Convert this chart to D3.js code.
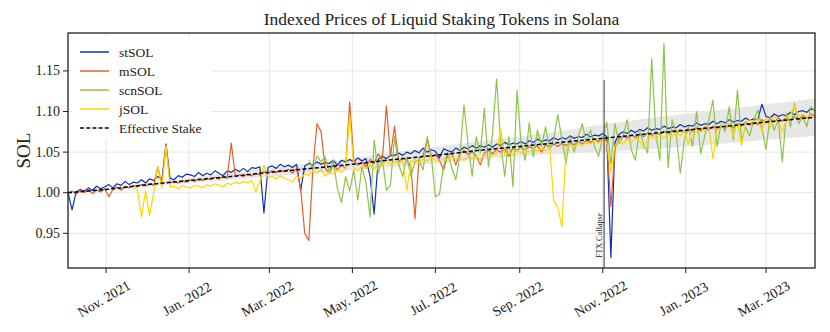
<!DOCTYPE html>
<html>
<head>
<meta charset="utf-8">
<script src="https://cdn.jsdelivr.net/npm/d3@7"></script>
<style>
  body { margin: 0; background: #fff; }
  svg { display: block; }
  text { font-family: "Liberation Serif", "Times New Roman", serif; fill: #222; }
</style>
</head>
<body>
<script>
// sampling grid of the price series: one value every 3 days from 4 Oct 2021
const firstDay = "2021-10-04";
const stepDays = 3;

const stSOL = [
  1.000, 0.979, 1.001, 1.004, 1.002, 1.006, 1.003, 1.008, 1.005, 1.007,
  1.010, 1.006, 1.011, 1.009, 1.014, 1.010, 1.013, 1.012, 1.016, 1.012,
  1.017, 1.015, 1.020, 1.016, 1.060, 1.018, 1.016, 1.021, 1.019, 1.023,
  1.022, 1.020, 1.025, 1.021, 1.024, 1.022, 1.027, 1.024, 1.021, 1.027,
  1.025, 1.029, 1.026, 1.030, 1.026, 1.031, 1.030, 1.032, 0.975, 1.031,
  1.033, 1.030, 1.035, 1.032, 1.034, 1.031, 1.035, 1.003, 1.033, 1.036,
  1.034, 1.038, 1.035, 1.037, 1.036, 1.040, 1.034, 1.040, 1.038, 1.041,
  1.038, 1.043, 1.039, 1.042, 1.020, 0.974, 1.041, 1.045, 1.042, 1.046,
  1.046, 1.049, 1.046, 1.050, 1.048, 1.052, 1.049, 1.055, 1.050, 1.053,
  1.051, 1.043, 1.054, 1.052, 1.050, 1.055, 1.052, 1.056, 1.054, 1.058,
  1.055, 1.058, 1.056, 1.059, 1.056, 1.060, 1.058, 1.062, 1.059, 1.061,
  1.060, 1.063, 1.060, 1.064, 1.062, 1.066, 1.063, 1.065, 1.064, 1.068,
  1.065, 1.068, 1.066, 1.070, 1.067, 1.069, 1.068, 1.072, 1.069, 1.071,
  1.070, 1.073, 1.069, 0.920, 1.062, 1.072, 1.075, 1.073, 1.077, 1.074,
  1.078, 1.076, 1.080, 1.077, 1.079, 1.078, 1.082, 1.079, 1.081, 1.080,
  1.084, 1.081, 1.083, 1.082, 1.086, 1.083, 1.085, 1.084, 1.088, 1.085,
  1.088, 1.086, 1.090, 1.087, 1.089, 1.088, 1.092, 1.089, 1.091, 1.090,
  1.109, 1.094, 1.092, 1.097, 1.094, 1.096, 1.095, 1.099, 1.096, 1.100,
  1.101, 1.099, 1.104, 1.101
];

const mSOL = [
  1.000, 1.002, 0.998, 1.003, 1.000, 1.004, 0.999, 1.003, 1.001, 1.005,
  0.995, 1.004, 1.007, 1.003, 1.008, 1.006, 1.009, 1.007, 1.010, 1.008,
  1.011, 1.009, 1.032, 1.010, 1.060, 1.012, 1.014, 1.012, 1.015, 1.013,
  1.016, 1.014, 1.017, 1.015, 1.018, 1.016, 1.019, 1.017, 1.020, 1.018,
  1.061, 1.020, 1.022, 1.020, 1.023, 1.021, 1.024, 1.022, 1.026, 1.024,
  1.027, 1.025, 1.028, 1.026, 1.029, 1.024, 1.030, 1.005, 0.950, 0.941,
  1.030, 1.085, 1.075, 1.030, 1.024, 1.035, 1.028, 1.034, 1.030, 1.112,
  1.040, 1.034, 1.038, 1.032, 1.041, 1.036, 1.048, 1.040, 1.107, 1.045,
  1.082, 1.038, 1.043, 1.040, 1.032, 0.968, 1.042, 1.046, 1.065, 1.044,
  1.047, 1.040, 1.028, 1.046, 1.049, 1.034, 1.048, 1.052, 1.047, 1.050,
  1.046, 1.034, 1.049, 1.052, 1.048, 1.053, 1.050, 1.054, 1.045, 1.055,
  1.052, 1.056, 1.053, 1.057, 1.054, 1.058, 1.050, 1.059, 1.056, 1.060,
  1.057, 1.061, 1.058, 1.062, 1.059, 1.063, 1.060, 1.065, 1.062, 1.066,
  1.063, 1.067, 1.064, 0.983, 1.055, 1.066, 1.070, 1.067, 1.071, 1.068,
  1.072, 1.069, 1.074, 1.070, 1.075, 1.071, 1.076, 1.072, 1.077, 1.073,
  1.078, 1.074, 1.079, 1.075, 1.080, 1.076, 1.081, 1.077, 1.082, 1.078,
  1.083, 1.079, 1.084, 1.080, 1.086, 1.082, 1.087, 1.083, 1.088, 1.084,
  1.090, 1.086, 1.091, 1.087, 1.092, 1.088, 1.093, 1.089, 1.094, 1.090,
  1.095, 1.092, 1.097, 1.094
];

const scnSOLStart = 59;
const scnSOL = [
  1.040, 1.030, 1.045, 1.038, 1.044, 1.025, 1.040, 1.005, 0.988, 1.020,
  1.002, 1.028, 0.991, 1.032, 1.012, 0.970, 1.065, 1.024, 1.042, 1.003,
  1.010, 1.069, 1.035, 1.020, 1.044, 1.020, 1.038, 1.040, 1.028, 1.069,
  1.045, 0.995, 0.998, 1.033, 1.050, 1.031, 1.016, 1.045, 1.108, 1.060,
  1.020, 1.069, 1.049, 1.104, 1.032, 1.073, 1.140, 1.061, 1.020, 1.069,
  1.007, 1.126, 1.061, 1.040, 1.086, 1.044, 1.077, 1.057, 1.081, 1.053,
  1.066, 1.096, 1.065, 1.036, 1.069, 1.050, 1.069, 1.085, 1.060, 1.077,
  1.057, 1.045, 1.069, 1.087, 1.035, 1.085, 1.060, 1.069, 1.090, 1.053,
  1.040, 1.077, 1.060, 1.049, 1.165, 1.073, 1.040, 1.184, 1.031, 1.090,
  1.073, 1.024, 1.065, 1.081, 1.057, 1.100, 1.048, 1.070, 1.090, 1.114,
  1.057, 1.085, 1.075, 1.106, 1.065, 1.126, 1.065, 1.081, 1.070, 1.090,
  1.102, 1.080, 1.053, 1.094, 1.077, 1.090, 1.038, 1.098, 1.081, 1.110,
  1.085, 1.094, 1.081, 1.106, 1.100
];

const jSOLStart = 16;
const jSOL = [
  1.006, 1.004, 0.970, 1.002, 0.972, 1.000, 1.032, 1.006, 1.058, 1.007,
  1.008, 1.005, 1.009, 1.007, 1.006, 1.009, 1.008, 1.006, 1.010, 1.008,
  1.011, 1.009, 1.007, 1.012, 1.010, 1.013, 1.011, 1.014, 1.012, 1.015,
  1.001, 1.014, 1.034, 1.019, 1.020, 1.017, 1.021, 1.018, 1.016, 1.013,
  1.020, 1.018, 1.023, 1.021, 1.027, 1.024, 1.029, 1.020, 1.026, 1.023,
  1.028, 1.025, 1.030, 1.096, 1.031, 1.027, 1.033, 1.030, 1.035, 1.028,
  1.036, 1.033, 1.040, 1.035, 1.038, 1.036, 1.040, 1.003, 1.038, 1.041,
  1.037, 1.042, 1.039, 1.043, 1.040, 1.038, 1.042, 1.040, 1.044, 1.041,
  1.043, 1.040, 1.044, 1.042, 1.045, 1.040, 1.047, 1.043, 1.046, 1.049,
  1.078, 1.046, 1.050, 1.047, 1.052, 1.049, 1.053, 1.050, 1.054, 1.051,
  1.055, 1.052, 1.056, 0.990, 0.982, 0.958, 1.055, 1.059, 1.056, 1.061,
  1.058, 1.063, 1.060, 1.064, 1.061, 1.066, 1.062, 1.025, 1.058, 1.063,
  1.060, 1.066, 1.062, 1.067, 1.064, 1.055, 1.065, 1.070, 1.066, 1.071,
  1.067, 1.072, 1.069, 1.074, 1.070, 1.076, 1.060, 1.078, 1.074, 1.080,
  1.076, 1.082, 1.042, 1.080, 1.084, 1.081, 1.086, 1.070, 1.088, 1.058,
  1.086, 1.090, 1.087, 1.092, 1.075, 1.093, 1.080, 1.094, 1.090, 1.074,
  1.092, 1.096, 1.108, 1.094, 1.097, 1.093, 1.098, 1.096
];

const effDates = [
  "2021-10-04", "2021-11-01", "2021-12-01", "2022-01-01", "2022-02-01", "2022-03-01",
  "2022-04-01", "2022-05-01", "2022-06-01", "2022-07-01", "2022-08-01", "2022-09-01",
  "2022-10-01", "2022-11-01", "2022-12-01", "2023-01-01", "2023-02-01", "2023-03-01",
  "2023-04-06"
];
const effStake = [
  1.000, 1.004, 1.010, 1.015, 1.020, 1.025, 1.030, 1.035, 1.041, 1.046,
  1.052, 1.057, 1.062, 1.067, 1.072, 1.077, 1.082, 1.087, 1.093
];
const bandHalfWidth = [
  0.001, 0.0015, 0.002, 0.003, 0.004, 0.005, 0.006, 0.007, 0.009, 0.010,
  0.011, 0.012, 0.014, 0.017, 0.019, 0.020, 0.021, 0.022, 0.023
];

const xTickDates = ["2021-11-01", "2022-01-01", "2022-03-01", "2022-05-01", "2022-07-01",
  "2022-09-01", "2022-11-01", "2023-01-01", "2023-03-01"];
const yTickValues = [0.95, 1.00, 1.05, 1.10, 1.15];

const ftxDate = "2022-11-02";
const ftxTop = 1.139;

const seriesNames = ["stSOL", "mSOL", "scnSOL", "jSOL"];
const seriesColors = ["#1030b4", "#e0612b", "#8dc34a", "#ffd500"];

const width = 830, height = 332;
const margin = { left: 68, right: 15, top: 33, bottom: 64 };

const parse = d3.timeParse("%Y-%m-%d");
const t0 = parse(firstDay);

function toPoints(values, start) {
  return values.map((v, k) => ({ date: d3.timeDay.offset(t0, (start + k) * stepDays), value: v }));
}

const series = [
  toPoints(stSOL, 0),
  toPoints(mSOL, 0),
  toPoints(scnSOL, scnSOLStart),
  toPoints(jSOL, jSOLStart)
];
const eff = effDates.map((d, k) => ({ date: parse(d), value: effStake[k], half: bandHalfWidth[k] }));

const x = d3.scaleTime()
  .domain([parse("2021-10-04"), parse("2023-04-06")])
  .range([margin.left, width - margin.right]);
const y = d3.scaleLinear()
  .domain([0.9073, 1.1967])
  .range([height - margin.bottom, margin.top]);

const svg = d3.select("body").append("svg")
  .attr("width", width)
  .attr("height", height);

const defs = svg.append("defs");
defs.append("clipPath").attr("id", "plot")
  .append("rect")
  .attr("x", margin.left).attr("y", margin.top)
  .attr("width", width - margin.left - margin.right)
  .attr("height", height - margin.top - margin.bottom);

// grid
const grid = svg.append("g").attr("stroke", "#e6e6e6").attr("stroke-width", 1);
grid.selectAll("line.v").data(xTickDates).join("line")
  .attr("x1", d => x(parse(d))).attr("x2", d => x(parse(d)))
  .attr("y1", margin.top).attr("y2", height - margin.bottom);
grid.selectAll("line.h").data(yTickValues).join("line")
  .attr("y1", d => y(d)).attr("y2", d => y(d))
  .attr("x1", margin.left).attr("x2", width - margin.right);

const plot = svg.append("g").attr("clip-path", "url(#plot)");

// band around effective stake
plot.append("path")
  .datum(eff)
  .attr("fill", "#e3e3e3")
  .attr("fill-opacity", 0.85)
  .attr("d", d3.area()
    .x(d => x(d.date))
    .y0(d => y(d.value - d.half))
    .y1(d => y(d.value + d.half)));

const line = d3.line().x(d => x(d.date)).y(d => y(d.value));

plot.selectAll("path.series")
  .data(series)
  .join("path")
  .attr("class", "series")
  .attr("fill", "none")
  .attr("stroke", (d, i) => seriesColors[i])
  .attr("stroke-width", 1.2)
  .attr("stroke-linejoin", "round")
  .attr("d", line);

plot.append("path")
  .datum(eff)
  .attr("fill", "none")
  .attr("stroke", "#000")
  .attr("stroke-width", 1.5)
  .attr("stroke-dasharray", "4,2.2")
  .attr("d", line);

// FTX marker
const fx = x(parse(ftxDate));
svg.append("line")
  .attr("x1", fx).attr("x2", fx)
  .attr("y1", y(ftxTop)).attr("y2", height - margin.bottom)
  .attr("stroke", "#333").attr("stroke-width", 1);
svg.append("text")
  .attr("transform", `translate(${fx - 2.5},${height - margin.bottom - 10}) rotate(-90)`)
  .attr("font-size", 8)
  .text("FTX Collapse");

// frame
svg.append("rect")
  .attr("x", margin.left).attr("y", margin.top)
  .attr("width", width - margin.left - margin.right)
  .attr("height", height - margin.top - margin.bottom)
  .attr("fill", "none").attr("stroke", "#222").attr("stroke-width", 1.3);

// axes
const fmtMonth = d3.timeFormat("%b. %Y");
const xAxis = svg.append("g").attr("transform", `translate(0,${height - margin.bottom})`);
xAxis.selectAll("line").data(xTickDates).join("line")
  .attr("x1", d => x(parse(d))).attr("x2", d => x(parse(d)))
  .attr("y1", 0).attr("y2", 5)
  .attr("stroke", "#222");
xAxis.selectAll("text").data(xTickDates).join("text")
  .attr("transform", d => `translate(${x(parse(d)) - 2},31) rotate(-30)`)
  .attr("text-anchor", "middle")
  .attr("dominant-baseline", "central")
  .attr("font-size", 14)
  .text(d => fmtMonth(parse(d)));

const yAxis = svg.append("g").attr("transform", `translate(${margin.left},0)`);
yAxis.selectAll("line").data(yTickValues).join("line")
  .attr("x1", -5).attr("x2", 0)
  .attr("y1", d => y(d)).attr("y2", d => y(d))
  .attr("stroke", "#222");
yAxis.selectAll("text").data(yTickValues).join("text")
  .attr("x", -8)
  .attr("y", d => y(d))
  .attr("text-anchor", "end")
  .attr("dominant-baseline", "central")
  .attr("font-size", 14)
  .text(d => d3.format(".2f")(d));

svg.append("text")
  .attr("transform", `translate(30,${(margin.top + height - margin.bottom) / 2}) rotate(-90)`)
  .attr("text-anchor", "middle")
  .attr("font-size", 19)
  .text("SOL");

svg.append("text")
  .attr("x", (margin.left + width - margin.right) / 2)
  .attr("y", 25)
  .attr("text-anchor", "middle")
  .attr("font-size", 17.5)
  .text("Indexed Prices of Liquid Staking Tokens in Solana");

// legend
const legend = svg.append("g");
legend.append("rect")
  .attr("x", 72).attr("y", 37).attr("width", 140).attr("height", 102)
  .attr("rx", 3).attr("fill", "#fff").attr("fill-opacity", 0.9);
const legendItems = seriesNames.map((n, i) => ({ name: n, color: seriesColors[i], dash: null }))
  .concat([{ name: "Effective Stake", color: "#000", dash: "4,2.2" }]);
const row = legend.selectAll("g").data(legendItems).join("g")
  .attr("transform", (d, i) => `translate(0,${52 + i * 19})`);
row.append("line")
  .attr("x1", 80).attr("x2", 109)
  .attr("stroke", d => d.color)
  .attr("stroke-width", 1.5)
  .attr("stroke-dasharray", d => d.dash);
row.append("text")
  .attr("x", 119).attr("y", 0)
  .attr("dominant-baseline", "central")
  .attr("font-size", 13.5)
  .text(d => d.name);
</script>
</body>
</html>
